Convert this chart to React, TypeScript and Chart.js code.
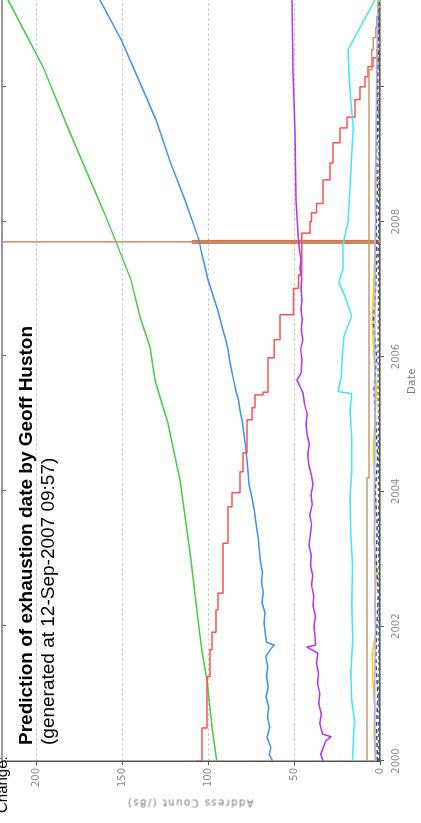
import React, { useEffect, useRef } from 'react';
import { Chart, registerables } from 'chart.js';
Chart.register(...registerables);

// Unrotated chart size (the whole chart is turned 90° counter-clockwise on the page)
const W = 871;
const H = 421;

const X_MIN = 2000;
const X_MAX = 2012;
const Y_MIN = 0;
const Y_MAX = 220;
const X_TICKS = [2000, 2002, 2004, 2006, 2008, 2010];
const X_TICK_LABELS = ['2000', '2002', '2004', '2006', '2008', ''];
const Y_TICKS = [0, 50, 100, 150, 200];

const TITLE_LINE_1 = 'Prediction of exhaustion date by Geoff Huston';
const TITLE_LINE_2 = '(generated at 12-Sep-2007 09:57)';
const TOP_TEXT = 'Change:';
const X_TITLE = 'Date';
const Y_TITLE = 'Address Count (/8s)';

// Green curve
const GREEN_X = [2000.0, 2000.5, 2001.0, 2001.2, 2001.6, 2002.0, 2002.5, 2002.98, 2003.5, 2004.17, 2004.6, 2005.01, 2005.25, 2005.65, 2006.14, 2006.59, 2007.14, 2007.66, 2008.1, 2008.52, 2009.32, 2010.3, 2011.29, 2011.6];
const GREEN_Y = [95, 97.8, 99.8, 100.7, 103.5, 105.5, 107.8, 110, 112.8, 116.4, 120, 123.4, 126.3, 131, 133.9, 139.7, 145, 153, 160, 167, 180.4, 196.2, 216.5, 224];

// Blue curve
const BLUE_X = [2000.0, 2000.1, 2000.2, 2000.35, 2000.5, 2000.65, 2000.8, 2000.95, 2001.1, 2001.25, 2001.4, 2001.55, 2001.68, 2001.72, 2001.76, 2001.9, 2002.05, 2002.2, 2002.35, 2002.5, 2002.65, 2002.8, 2002.95, 2003.1, 2003.3, 2003.5, 2003.7, 2003.9, 2004.1, 2004.3, 2004.5, 2004.7, 2004.9, 2005.06, 2005.2, 2005.35, 2005.5, 2005.65, 2005.8, 2005.95, 2006.1, 2006.25, 2006.4, 2006.55, 2006.7, 2006.85, 2007.0, 2007.15, 2007.3, 2007.45, 2007.6, 2007.7, 2008.32, 2008.86, 2009.51, 2010.06, 2010.7, 2011.29, 2011.9];
const BLUE_Y = [62.5, 64.5, 63.5, 65.8, 64.2, 65.5, 64.8, 66.4, 65.0, 66.0, 65.3, 66.5, 63.0, 61.5, 66.0, 66.8, 67.5, 66.9, 68.7, 68.0, 69.0, 68.4, 69.5, 70.2, 70.8, 72.0, 73.0, 74.5, 76.2, 76.8, 77.5, 78.4, 79.5, 80.3, 81.5, 82.4, 84.0, 85.2, 86.4, 87.6, 88.5, 89.8, 91.5, 93.0, 94.6, 96.5, 98.4, 100.2, 101.6, 103.0, 104.4, 105.0, 113.5, 121.7, 130.4, 139.7, 150.7, 163, 178];

// Red step series
const RED_X = [2000.0, 2000.49, 2001.25, 2001.65, 2001.91, 2002.24, 2002.49, 2003.23, 2003.77, 2003.98, 2004.29, 2004.57, 2005.06, 2005.24, 2005.43, 2005.47, 2005.98, 2006.25, 2006.62, 2007.01, 2007.21, 2007.83, 2008.0, 2008.13, 2008.27, 2008.62, 2008.87, 2009.17, 2009.39, 2009.55, 2009.81, 2010.0, 2010.15, 2010.3, 2010.43, 2010.55, 2010.7];
const RED_Y = [107.1, 103.6, 100.7, 99.0, 97.8, 95.5, 94.3, 91.4, 88.5, 86.1, 81.5, 79.7, 77.4, 74.5, 72.8, 68.1, 65.2, 61.5, 58.2, 50.4, 47.5, 45.6, 40.7, 39.8, 36.9, 33.2, 29.1, 27.4, 23.3, 19.2, 14.6, 11.6, 8.7, 7.0, 4.1, 1.7, 0];

// Purple curve
const PURPLE_X = [2000.0, 2000.1, 2000.2, 2000.3, 2000.36, 2000.4, 2000.55, 2000.7, 2000.85, 2001.0, 2001.15, 2001.3, 2001.45, 2001.6, 2001.69, 2001.72, 2001.85, 2002.0, 2002.15, 2002.3, 2002.45, 2002.6, 2002.75, 2002.9, 2003.05, 2003.2, 2003.35, 2003.5, 2003.65, 2003.8, 2003.95, 2004.1, 2004.25, 2004.4, 2004.55, 2004.7, 2004.85, 2005.0, 2005.15, 2005.3, 2005.46, 2005.55, 2005.65, 2005.75, 2005.95, 2006.1, 2006.25, 2006.4, 2006.55, 2006.7, 2006.84, 2007.0, 2007.15, 2007.3, 2007.45, 2007.6, 2007.83, 2008.32, 2009.32, 2010.25, 2011.29, 2012.0];
const PURPLE_Y = [33.2, 34.5, 33.0, 31.5, 28.5, 33.5, 35.0, 34.2, 35.6, 35.0, 36.4, 35.8, 37.0, 36.2, 42.5, 37.5, 37.8, 38.4, 37.6, 39.0, 38.5, 39.8, 39.2, 40.5, 40.0, 41.3, 40.6, 39.8, 40.9, 39.5, 40.2, 39.0, 40.0, 41.5, 42.0, 41.2, 42.5, 43.0, 42.4, 44.0, 44.8, 46.5, 48.3, 46.0, 45.4, 46.2, 45.0, 45.8, 45.2, 46.0, 45.4, 46.0, 45.6, 46.5, 46.0, 47.0, 47.7, 48.9, 49.5, 50.6, 51.2, 51.8];

// Cyan curve
const CYAN_X = [2000.0, 2000.3, 2000.6, 2000.9, 2001.3, 2001.8, 2002.3, 2002.9, 2003.4, 2003.9, 2004.3, 2004.8, 2005.2, 2005.45, 2005.48, 2005.7, 2006.0, 2006.3, 2006.6, 2006.9, 2007.1, 2007.3, 2007.66, 2008.0, 2008.5, 2009.0, 2009.4, 2009.8, 2010.2, 2010.55, 2011.29, 2011.5];
const CYAN_Y = [16.0, 15.5, 14.8, 16.5, 17.0, 15.8, 16.5, 16.0, 17.0, 17.5, 16.5, 16.5, 17.5, 16.5, 24.4, 22.5, 22.0, 21.0, 16.5, 20.5, 24.0, 21.5, 21.5, 18.6, 17.5, 16.5, 15.5, 17.0, 18.0, 18.6, 3.0, 0];

// Brown step series
const BROWN_X = [2000.0, 2004.2, 2010.25, 2010.55, 2010.73, 2010.88, 2011.04, 2011.3];
const BROWN_Y = [8.1, 7.6, 6.4, 4.8, 3.9, 2.5, 1.9, 1.0];

// Small series near zero
const YELLOW_X = [2000.0, 2000.4, 2000.8, 2001.2, 2001.6, 2001.9, 2002.3, 2002.8, 2003.3, 2003.8, 2004.2, 2004.6, 2005.0, 2005.5, 2006.0, 2006.5, 2007.0, 2007.5, 2008.0, 2008.5, 2009.0, 2009.5, 2010.0, 2010.5, 2011.0, 2011.3];
const YELLOW_Y = [2.5, 3.5, 3.0, 4.2, 4.5, 2.5, 3.0, 2.0, 3.5, 2.5, 3.0, 4.0, 3.0, 2.0, 3.5, 4.5, 3.8, 3.0, 2.5, 3.0, 2.5, 2.0, 1.5, 1.5, 1.0, 0.5];
const NAVY_X = [2000.0, 2000.5, 2001.0, 2001.5, 2002.0, 2002.5, 2003.0, 2003.5, 2004.0, 2004.5, 2005.0, 2005.5, 2006.0, 2006.5, 2007.0, 2007.5, 2008.0, 2008.5, 2009.0, 2009.5, 2010.0, 2010.5, 2011.0, 2011.5];
const NAVY_Y = [1.5, 2.0, 1.2, 2.5, 1.8, 1.0, 2.2, 1.6, 2.8, 1.4, 2.4, 3.5, 2.0, 3.8, 2.6, 1.8, 2.2, 1.5, 2.0, 1.2, 1.6, 1.0, 0.8, 0.5];
const LAVENDER_X = [2000.0, 2001.0, 2002.0, 2003.0, 2004.0, 2005.0, 2006.0, 2007.0, 2008.0, 2009.0, 2010.0, 2011.0, 2011.5];
const LAVENDER_Y = [2.8, 3.2, 2.6, 3.0, 3.4, 2.7, 3.1, 2.9, 2.6, 2.4, 2.0, 1.4, 1.0];
const DKGREEN_X = [2000.0, 2002.0, 2004.0, 2006.0, 2008.0, 2010.0, 2011.5];
const DKGREEN_Y = [0.8, 0.6, 0.9, 1.1, 0.8, 0.6, 0.3];

// "Now" marker (12 Sep 2007)
const MARKER_DATE = 2007.7;
const MARKER_THICK_TOP = 109.5;

const pts = (xs: number[], ys: number[]) => xs.map((x, i) => ({ x, y: ys[i] }));

const line = (label: string, xs: number[], ys: number[], color: string, width = 1.5, extra: any = {}) => ({
  label,
  data: pts(xs, ys),
  borderColor: color,
  backgroundColor: color,
  borderWidth: width,
  pointRadius: 0,
  fill: false,
  tension: 0,
  borderJoinStyle: 'round',
  ...extra,
});

const framePlugin = {
  id: 'frame',
  afterDraw(chart: any) {
    const { ctx, chartArea: a, scales } = chart;
    ctx.save();
    ctx.strokeStyle = '#9a9a9a';
    ctx.lineWidth = 2;
    ctx.beginPath();
    ctx.moveTo(a.left, a.top);
    ctx.lineTo(a.right, a.top);
    ctx.stroke();
    ctx.strokeStyle = '#666';
    ctx.lineWidth = 1;
    X_TICKS.forEach((v) => {
      const px = Math.round(scales.x.getPixelForValue(v)) + 0.5;
      ctx.beginPath();
      ctx.moveTo(px, a.top);
      ctx.lineTo(px, a.top + 4);
      ctx.stroke();
    });
    ctx.restore();
  },
};

export default function App() {
  const ref = useRef<HTMLCanvasElement>(null);

  useEffect(() => {
    Chart.defaults.font.family = '"DejaVu Sans", sans-serif';
    const chart = new Chart(ref.current as HTMLCanvasElement, {
      type: 'line',
      data: {
        datasets: [
          line('dkgreen', DKGREEN_X, DKGREEN_Y, '#2e7d4f', 1.2, { borderDash: [3, 3] }),
          line('lavender', LAVENDER_X, LAVENDER_Y, '#b4a8ee', 1.5),
          line('navy', NAVY_X, NAVY_Y, '#3a3ab8', 1.5, { borderDash: [4, 3] }),
          line('yellow', YELLOW_X, YELLOW_Y, '#f2d000', 1.5),
          line('brown', BROWN_X, BROWN_Y, '#c39a72', 1.5, { stepped: 'after' }),
          line('cyan', CYAN_X, CYAN_Y, '#3ceaf0', 1.5),
          line('purple', PURPLE_X, PURPLE_Y, '#b034ff', 1.5),
          line('red', RED_X, RED_Y, '#ff5252', 1.5, { stepped: 'after' }),
          line('blue', BLUE_X, BLUE_Y, '#3d90f5', 1.5),
          line('green', GREEN_X, GREEN_Y, '#45cc45', 1.5),
          line('marker', [MARKER_DATE, MARKER_DATE], [Y_MIN, Y_MAX], '#d98462', 1.5),
          line('markerThick', [MARKER_DATE, MARKER_DATE], [Y_MIN, MARKER_THICK_TOP], '#c97a52', 4),
        ],
      },
      options: {
        responsive: false,
        animation: false,
        devicePixelRatio: 1,
        layout: { padding: { top: 2, left: 0, right: 0, bottom: 0 } },
        plugins: {
          legend: { display: false },
          tooltip: { enabled: false },
          title: { display: false },
        },
        scales: {
          x: {
            type: 'linear',
            position: 'bottom',
            min: X_MIN,
            max: X_MAX,
            afterBuildTicks: (s: any) => {
              s.ticks = X_TICKS.map((v) => ({ value: v }));
            },
            afterFit: (s: any) => {
              s.height = H - 380;
              s.paddingLeft = 0;
              s.paddingRight = 0;
            },
            ticks: {
              color: '#8c8c8c',
              font: { size: 10 },
              padding: 6,
              maxRotation: 0,
              autoSkip: false,
              callback: (v: any) => {
                const i = X_TICKS.indexOf(Number(v));
                return i >= 0 ? X_TICK_LABELS[i] : '';
              },
            },
            grid: { drawOnChartArea: false, tickLength: 4, tickColor: '#555' },
            border: { color: '#555', width: 1.5 },
          },
          y: {
            type: 'linear',
            min: Y_MIN,
            max: Y_MAX,
            afterBuildTicks: (s: any) => {
              s.ticks = Y_TICKS.map((v) => ({ value: v }));
            },
            afterFit: (s: any) => {
              s.width = 62;
              s.paddingTop = 0;
              s.paddingBottom = 0;
            },
            ticks: { color: '#8c8c8c', font: { size: 10 }, padding: 3 },
            grid: { color: '#bdbdbd', lineWidth: 1, tickLength: 4, tickColor: '#555', tickBorderDash: [] },
            border: { color: '#555', width: 1.5, dash: [2, 3] },
          },
        },
      } as any,
      plugins: [framePlugin],
    });
    return () => chart.destroy();
  }, []);

  return (
    <div style={{ position: 'fixed', left: 0, top: 0, width: 421, height: 823, overflow: 'hidden', background: '#fff' }}>
      <div
        style={{
          position: 'absolute',
          left: 0,
          top: 0,
          width: W,
          height: H,
          transformOrigin: '0 0',
          transform: 'translate(0px, 823px) rotate(-90deg)',
        }}
      >
        <canvas ref={ref} width={W} height={H} style={{ display: 'block', width: W, height: H }} />
        <div
          style={{
            position: 'absolute', left: 10, top: -6, fontFamily: '"Liberation Sans", Arial, sans-serif',
            fontSize: 15, lineHeight: '15px', color: '#000', whiteSpace: 'nowrap',
          }}
        >
          {TOP_TEXT}
        </div>
        <div
          style={{
            position: 'absolute', left: 78, top: 15, fontFamily: '"Liberation Sans", Arial, sans-serif',
            fontSize: 19, lineHeight: '22px', color: '#000', whiteSpace: 'nowrap',
          }}
        >
          <div style={{ fontWeight: 'bold' }}>{TITLE_LINE_1}</div>
          <div>{TITLE_LINE_2}</div>
        </div>
        <div
          style={{
            position: 'absolute', left: 442, top: 406, transform: 'translateX(-50%)',
            fontFamily: '"DejaVu Sans", sans-serif', fontSize: 10, letterSpacing: 0.5, color: '#777', whiteSpace: 'nowrap',
          }}
        >
          {X_TITLE}
        </div>
        <div
          style={{
            position: 'absolute', left: 20, top: 190, transform: 'translate(-50%, -50%) rotate(-90deg)',
            fontFamily: '"DejaVu Sans", sans-serif', fontSize: 10, letterSpacing: 1.5, color: '#777', whiteSpace: 'nowrap',
          }}
        >
          {Y_TITLE}
        </div>
      </div>
    </div>
  );
}
